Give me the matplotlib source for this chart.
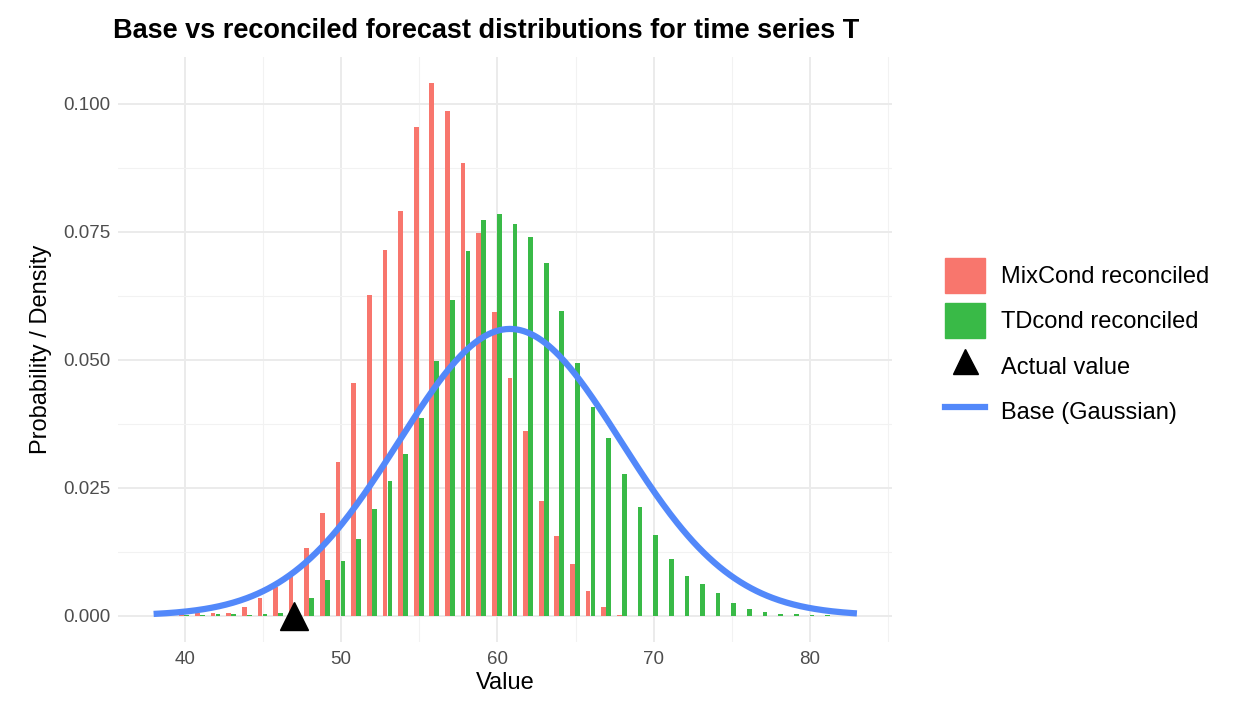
import numpy as np
import matplotlib.pyplot as plt
from matplotlib.lines import Line2D
from matplotlib.patches import Patch

plt.rcParams['font.family'] = ['Liberation Sans', 'DejaVu Sans']

# MixCond reconciled (probabilities per integer value)
mix_x = np.arange(40, 69)
mix_p = [0.0005, 0.0005, 0.0005, 0.0006, 0.0017, 0.0034, 0.0055, 0.0078, 0.0133, 0.020,
         0.030, 0.0454, 0.0626, 0.0714, 0.079, 0.0955, 0.104, 0.0987, 0.0885, 0.0748,
         0.0593, 0.0464, 0.036, 0.0225, 0.0155, 0.010, 0.0049, 0.0016, 0.0002]

# TDcond reconciled
td_x = np.arange(40, 82)
td_p = [0.0002, 0.0002, 0.0003, 0.0003, 0.0001, 0.0003, 0.0005, 0.0008, 0.0034, 0.007,
        0.0107, 0.015, 0.0208, 0.0264, 0.0316, 0.0387, 0.0497, 0.0616, 0.0712, 0.0773,
        0.0784, 0.0766, 0.074, 0.0689, 0.0595, 0.0493, 0.0408, 0.0348, 0.0277, 0.0213,
        0.0158, 0.0111, 0.0078, 0.0061, 0.0045, 0.0025, 0.0012, 0.0007, 0.0004, 0.0003,
        0.0002, 0.0001]

# Base Gaussian forecast parameters and actual value
base_mean, base_sd = 60.8, 7.12
base_range = (38, 83)
actual_value = 47

fig = plt.figure(figsize=(12.6, 7.2), dpi=100)
ax = fig.add_axes([0.094, 0.108, 0.614, 0.813])

ax.bar(mix_x - 0.2, mix_p, width=0.3, color='#F8766D', zorder=2)
ax.bar(td_x + 0.12, td_p, width=0.3, color='#39BA47', zorder=2)

xs = np.linspace(base_range[0], base_range[1], 400)
dens = np.exp(-0.5 * ((xs - base_mean) / base_sd) ** 2) / (base_sd * np.sqrt(2 * np.pi))
ax.plot(xs, dens, color='#5288FA', lw=4.5, zorder=3, solid_capstyle='butt')
ax.plot([actual_value], [0], marker='^', color='black', ms=20, zorder=4, clip_on=False)

ax.set_xlim(35.75, 85.25)
ax.set_ylim(-0.0052, 0.1092)
ax.set_xticks([40, 50, 60, 70, 80])
ax.set_xticks([45, 55, 65, 75, 85], minor=True)
ax.set_yticks([0, 0.025, 0.05, 0.075, 0.1])
ax.set_yticklabels(['0.000', '0.025', '0.050', '0.075', '0.100'])
ax.set_yticks([0.0125, 0.0375, 0.0625, 0.0875], minor=True)
ax.grid(which='major', color='#EBEBEB', lw=1.4, zorder=0)
ax.grid(which='minor', color='#F2F2F2', lw=0.8, zorder=0)
ax.set_axisbelow(True)
for s in ax.spines.values():
    s.set_visible(False)
ax.tick_params(which='both', length=0, labelsize=13.5, colors='#4D4D4D', pad=6)
ax.set_xlabel('Value', fontsize=17, labelpad=3)
ax.set_ylabel('Probability / Density', fontsize=17, labelpad=8)
fig.text(0.09, 0.957, 'Base vs reconciled forecast distributions for time series T',
         fontsize=19.5, fontweight='bold', va='center')

handles = [Patch(color='#F8766D'), Patch(color='#39BA47'),
           Line2D([], [], marker='^', color='black', ls='none', ms=18),
           Line2D([], [], color='#5288FA', lw=4.5)]
labels = ['MixCond reconciled', 'TDcond reconciled', 'Actual value', 'Base (Gaussian)']
fig.legend(handles, labels, loc='center left', bbox_to_anchor=(0.733, 0.523),
           frameon=False, fontsize=17, handlelength=1.7, handleheight=1.9,
           labelspacing=0.45, handletextpad=0.7)

fig.savefig('out.png', dpi=100)
